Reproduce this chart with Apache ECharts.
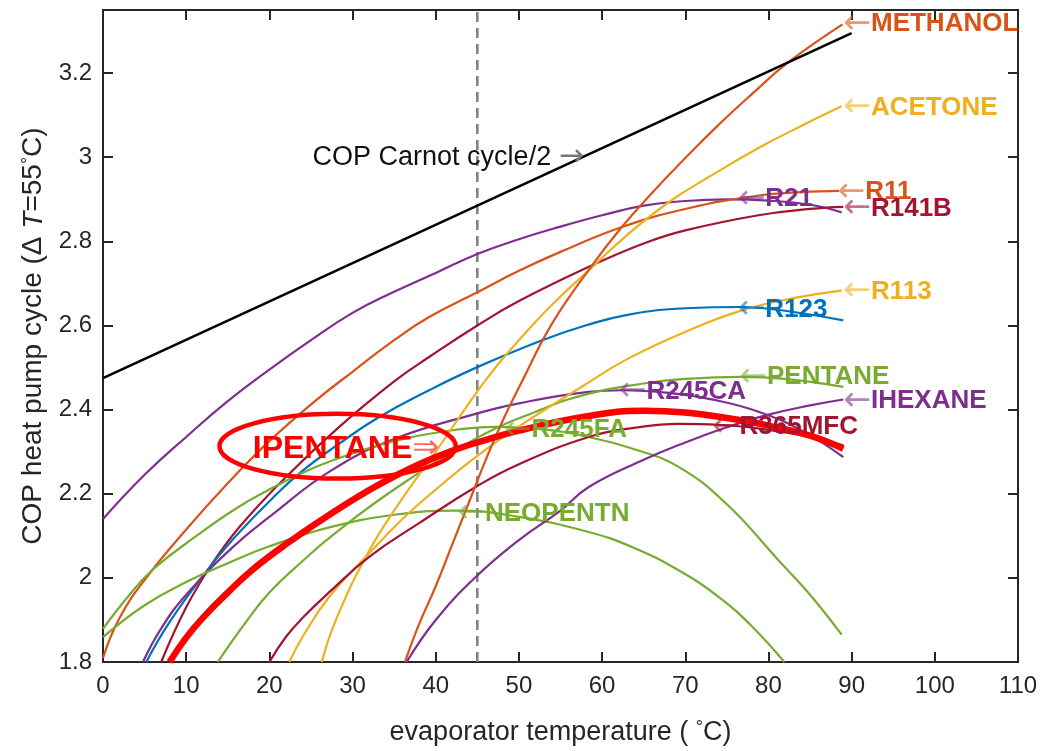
<!DOCTYPE html>
<html><head><meta charset="utf-8">
<script src="https://cdn.jsdelivr.net/npm/echarts@6/dist/echarts.min.js"></script>
<style>html,body{margin:0;padding:0;background:#fff}#c{width:1043px;height:751px}</style>
</head><body><div id="c"></div>
<script>
// ---- data: [evaporator temperature (°C), COP] ----
const CARNOT   = [[0,2.475],[90,3.295]];
const VLINE    = [[45,1.8],[45,3.35]];
const METHANOL = [[36.3,1.8],[38,1.89],[40,1.98],[42,2.08],[44.4,2.2],[46,2.28],[48.2,2.38],[50.2,2.46],[54,2.605],[58.8,2.743],[62.2,2.83],[66,2.915],[70,2.998],[74,3.077],[78,3.15],[82.4,3.226],[88.9,3.316]];
const ACETONE  = [[26.3,1.8],[28,1.9],[31.6,2.05],[35,2.16],[40,2.3],[46,2.47],[50,2.565],[54,2.65],[58.4,2.731],[63,2.815],[68,2.893],[73,2.955],[78.8,3.022],[84,3.075],[88.8,3.121]];
const R113     = [[22.4,1.8],[24,1.86],[27.2,1.955],[31.6,2.05],[36,2.14],[40,2.21],[45,2.29],[50,2.36],[57.6,2.455],[63,2.52],[70,2.585],[76.8,2.636],[83,2.665],[88.8,2.683]];
const R11      = [[0,1.81],[2,1.905],[5,1.995],[10,2.115],[15,2.225],[20,2.325],[25.6,2.422],[30,2.49],[35,2.565],[39.2,2.62],[45,2.679],[50,2.73],[55,2.775],[62.4,2.834],[70,2.877],[78.8,2.909],[84,2.917],[88.5,2.92]];
const R21      = [[0,2.14],[5,2.245],[10,2.335],[15,2.42],[20,2.495],[25,2.565],[30,2.63],[35,2.68],[40,2.725],[45,2.77],[50,2.805],[55,2.835],[60,2.862],[65,2.885],[70,2.896],[75,2.9],[80,2.897],[85,2.887],[88.8,2.869]];
const R141B    = [[7,1.8],[10,1.93],[13,2.03],[16.4,2.121],[22,2.24],[28.4,2.359],[35.2,2.47],[39.2,2.525],[45,2.6],[50,2.658],[58.8,2.743],[65,2.795],[70,2.826],[78.8,2.862],[85,2.877],[89,2.882]];
const R123     = [[5.2,1.8],[8,1.895],[12.8,2.025],[16,2.1],[20.4,2.19],[24,2.255],[28.4,2.319],[33,2.38],[39.2,2.446],[45,2.501],[52.8,2.565],[58,2.6],[63.2,2.626],[70,2.641],[76.8,2.644],[82,2.635],[89,2.612]];
const R245CA   = [[4.8,1.8],[7,1.88],[10,1.96],[15.6,2.073],[20,2.145],[27.5,2.256],[35,2.33],[44.8,2.39],[50,2.415],[58.4,2.442],[62.4,2.446],[68,2.44],[73,2.425],[78.8,2.395],[84,2.35],[89,2.287]];
const IHEXANE  = [[36.5,1.8],[40,1.9],[44.8,2.002],[50,2.09],[55,2.16],[58.4,2.216],[64.8,2.279],[70,2.322],[75,2.358],[80,2.388],[85,2.41],[89,2.424]];
const PENTANE  = [[13.8,1.8],[17,1.89],[20,1.965],[24,2.04],[27.5,2.1],[35,2.21],[44.8,2.331],[52.4,2.398],[58.4,2.438],[65,2.462],[70,2.473],[76.8,2.478],[82,2.473],[89,2.454]];
const R245FA   = [[0,1.879],[3,1.955],[6,2.02],[11.6,2.105],[16,2.165],[20,2.21],[24,2.25],[28.4,2.285],[35,2.325],[40,2.345],[47.2,2.359],[52,2.355],[58.4,2.335],[64,2.305],[69.2,2.264],[75,2.175],[81.2,2.042],[85,1.96],[88.8,1.865]];
const NEOPENTN = [[0,1.859],[5,1.935],[10,1.99],[15,2.035],[20,2.075],[27.2,2.12],[35,2.15],[42.4,2.16],[50,2.145],[58.4,2.109],[64,2.07],[69.2,2.018],[74,1.955],[78,1.885],[81.9,1.8]];
const IPENTANE = [[8,1.8],[10,1.858],[12,1.905],[15,1.965],[18,2.02],[22,2.08],[28,2.16],[33,2.22],[38,2.27],[42.4,2.305],[45,2.322],[50,2.35],[58.4,2.385],[65,2.397],[70,2.393],[75,2.38],[80,2.362],[85,2.338],[89,2.307]];
const R365MFC  = [[20,1.8],[22,1.86],[24,1.905],[27.2,1.966],[32,2.05],[38,2.13],[44.8,2.216],[50,2.27],[58.4,2.335],[64,2.357],[69.2,2.366],[74,2.364],[80,2.352],[85,2.335],[89,2.315]];

// label names and the curve point each label arrow points at
const LABEL_NAMES  = ['METHANOL','ACETONE','R11','R141B','R21','R113','R123','PENTANE','IHEXANE','R245CA','R365MFC','R245FA','NEOPENTN'];
const LABEL_POINTS = [[89,3.316],[89,3.118],[88.3,2.917],[89,2.878],[76.3,2.9],[89,2.681],[76.3,2.638],[76.5,2.477],[89,2.42],[62,2.443],[73.2,2.358],[48.2,2.351],[42.6,2.153]];
const IPENTANE_LABEL_POINT = [40.4,2.306];
const CARNOT_LABEL_POINT   = [57.8,3.0];
const ELLIPSE_CENTER = [28.2,2.313];
const ELLIPSE_RADII  = [14.2,0.077];

const X_TICKS = {min:0,max:110,interval:10};
const Y_TICKS = {min:1.8,max:3.35,interval:0.2};

const C = {blue:'#0072BD',orange:'#D95319',yellow:'#EDB120',purple:'#7E2F8E',green:'#77AC30',dred:'#A2142F',red:'#FF0000'};
const FONT = '"Liberation Sans", Arial, Helvetica, sans-serif';
const AFONT = '"DejaVu Sans", sans-serif';
const AX = '#262626';

const curves = [
  ['R21',R21,C.purple],['R11',R11,C.orange],['R141B',R141B,C.dred],['R123',R123,C.blue],
  ['R245CA',R245CA,C.purple],['R245FA',R245FA,C.green],['NEOPENTN',NEOPENTN,C.green],
  ['PENTANE',PENTANE,C.green],['R113',R113,C.yellow],['ACETONE',ACETONE,C.yellow],
  ['R365MFC',R365MFC,C.dred],['IHEXANE',IHEXANE,C.purple],['METHANOL',METHANOL,C.orange]
];
const colorOf = {};
curves.forEach(c=>colorOf[c[0]]=c[2]);

const SMOOTH = 0.45;
const series = [];
curves.forEach(([n,d,col])=>{
  series.push({type:'line',name:n,data:d,showSymbol:false,smooth:SMOOTH,clip:true,
    lineStyle:{color:col,width:2.2},itemStyle:{color:col},z:3});
});
series.push({type:'line',name:'IPENTANE',data:IPENTANE,showSymbol:false,smooth:SMOOTH,clip:true,
  lineStyle:{color:C.red,width:6.5},itemStyle:{color:C.red},z:4});
series.push({type:'line',name:'Carnot',data:CARNOT,showSymbol:false,clip:true,
  lineStyle:{color:'#000',width:2.6},z:4});
series.push({type:'line',name:'vline',data:VLINE,showSymbol:false,clip:true,
  lineStyle:{color:'#808080',width:2.5,type:[10,6]},z:2});

// labels
const labelData = LABEL_NAMES.map((n,i)=>{
  const col = colorOf[n];
  return {value:LABEL_POINTS[i], label:{show:true,position:'right',distance:0,
    formatter:'{a|←}{t|'+n+'}',
    rich:{a:{color:col,opacity:0.6,fontSize:33,fontFamily:AFONT,fontWeight:'normal'},
          t:{color:col,fontSize:26,fontWeight:'bold',fontFamily:FONT}}}};
});
labelData.push({value:IPENTANE_LABEL_POINT,label:{show:true,position:'left',distance:0,
  formatter:'{t|IPENTANE}{a|⇒}',
  rich:{a:{color:C.red,opacity:0.6,fontSize:32,fontFamily:AFONT},
        t:{color:C.red,fontSize:32,fontWeight:'bold',fontFamily:FONT}}}});
labelData.push({value:CARNOT_LABEL_POINT,label:{show:true,position:'left',distance:0,
  formatter:'{t|COP Carnot cycle/2 }{a|→}',
  rich:{a:{color:'#777',fontSize:30,fontFamily:AFONT},
        t:{color:'#111',fontSize:27,fontFamily:FONT}}}});
series.push({type:'scatter',name:'labels',data:labelData,symbolSize:0,z:10,silent:true,
  itemStyle:{opacity:1}});

function axisCommon(){
  return {axisLine:{show:true,onZero:false,lineStyle:{color:AX,width:2}},
    axisTick:{show:true,inside:true,length:10,lineStyle:{color:AX,width:2}},
    splitLine:{show:false}};
}
const option = {
  animation:false,
  backgroundColor:'#fff',
  grid:{left:103,right:25,top:10,bottom:89,containLabel:false},
  xAxis:[
    Object.assign(axisCommon(),{type:'value',position:'bottom',min:X_TICKS.min,max:X_TICKS.max,interval:X_TICKS.interval,
      axisLabel:{fontSize:24,color:AX,margin:12,fontFamily:FONT},
      name:'evaporator temperature ( {s|°}C)',nameLocation:'middle',nameGap:57,
      nameTextStyle:{fontSize:27,color:AX,fontFamily:FONT,rich:{s:{fontSize:18,color:AX,verticalAlign:'top',fontFamily:FONT}}}}),
    Object.assign(axisCommon(),{type:'value',position:'top',min:X_TICKS.min,max:X_TICKS.max,interval:X_TICKS.interval,
      axisLabel:{show:false}})
  ],
  yAxis:[
    Object.assign(axisCommon(),{type:'value',position:'left',min:Y_TICKS.min,max:Y_TICKS.max,interval:Y_TICKS.interval,
      axisLabel:{fontSize:24,color:AX,margin:11,fontFamily:FONT,showMaxLabel:false,
        formatter:v=>{const k=(v-Y_TICKS.min)/Y_TICKS.interval;return Math.abs(k-Math.round(k))<1e-6?String(+v.toFixed(2)):'';}},
      name:'COP heat pump cycle (Δ {i|T}=55{s|°}C)',nameLocation:'middle',nameGap:50,
      nameTextStyle:{fontSize:28,color:AX,fontFamily:FONT,
        rich:{i:{fontStyle:'italic',fontSize:28,color:AX,fontFamily:FONT},s:{fontSize:18,color:AX,verticalAlign:'top',fontFamily:FONT}}}}),
    Object.assign(axisCommon(),{type:'value',position:'right',min:Y_TICKS.min,max:Y_TICKS.max,interval:Y_TICKS.interval,
      axisLabel:{show:false}})
  ],
  series:series
};
const chart = echarts.init(document.getElementById('c'),null,{renderer:'canvas'});
chart.setOption(option);
const cpx = chart.convertToPixel({gridIndex:0},ELLIPSE_CENTER);
const epx = chart.convertToPixel({gridIndex:0},[ELLIPSE_CENTER[0]+ELLIPSE_RADII[0],ELLIPSE_CENTER[1]+ELLIPSE_RADII[1]]);
chart.setOption({graphic:[{type:'ellipse',z:20,silent:true,
  shape:{cx:cpx[0],cy:cpx[1],rx:Math.abs(epx[0]-cpx[0]),ry:Math.abs(epx[1]-cpx[1])},
  style:{fill:'none',stroke:C.red,lineWidth:4.5}}]});
</script></body></html>
